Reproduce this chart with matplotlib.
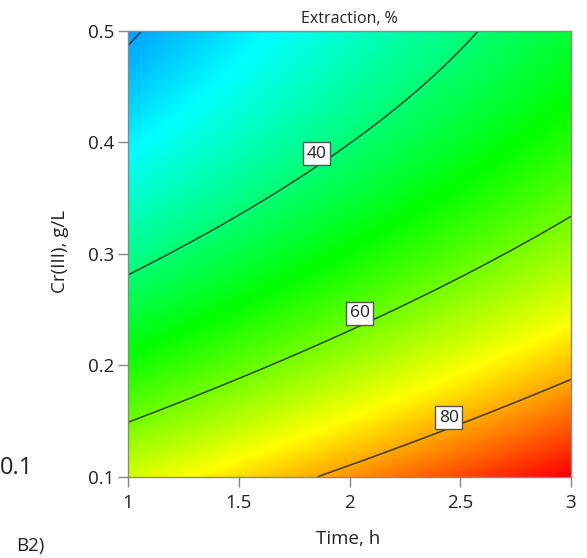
import numpy as np
import matplotlib
matplotlib.use("Agg")
import matplotlib.pyplot as plt
from matplotlib.colors import LinearSegmentedColormap

plt.rcParams['font.family'] = ['Open Sans', 'DejaVu Sans']

# Factor ranges
time_range = [1.0, 3.0]      # Time, h
cr_range = [0.1, 0.5]        # Cr(III), g/L

# Quadratic response model for extraction (%), in coded factors A (time), B (Cr)
b0 = 50.7
b_time = 13.2
b_cr = -24.8
b_time_cr = 0.0
b_time2 = 0.1
b_cr2 = 6.4

contour_levels = [20, 40, 60, 80]
labelled_levels = [40, 60, 80]
label_spots = [(1.852, 0.390), (2.047, 0.2465), (2.449, 0.153)]

x_ticks = [1, 1.5, 2, 2.5, 3]
x_ticklabels = ['1', '1.5', '2', '2.5', '3']
y_ticks = [0.1, 0.2, 0.3, 0.4, 0.5]
y_ticklabels = ['0.1', '0.2', '0.3', '0.4', '0.5']

color_low, color_high = 5, 95


def extraction(t, c):
    a = (t - 2.0) / 1.0
    b = (c - 0.3) / 0.2
    return (b0 + b_time * a + b_cr * b + b_time_cr * a * b
            + b_time2 * a ** 2 + b_cr2 * b ** 2)


t = np.linspace(time_range[0], time_range[1], 400)
c = np.linspace(cr_range[0], cr_range[1], 400)
T, C = np.meshgrid(t, c)
Z = extraction(T, C)

cmap = LinearSegmentedColormap.from_list(
    'rsm', ['#0000ff', '#00ffff', '#00ff00', '#ffff00', '#ff0000'])

W, H = 587, 558
fig = plt.figure(figsize=(W / 100, H / 100), dpi=100)
ax = fig.add_axes([128 / W, 1 - 476.7 / H, 443 / W, 445.7 / H])

ax.imshow(Z, origin='lower', extent=[*time_range, *cr_range], aspect='auto',
          cmap=cmap, vmin=color_low, vmax=color_high, interpolation='bilinear')

cs = ax.contour(T, C, Z, levels=contour_levels, colors='#1a1a1a',
                linewidths=1.1, alpha=0.8)

# Boxed level labels sitting on their contour lines
for level, (sx, sy) in zip(labelled_levels, label_spots):
    ax.text(sx, sy, f'{level:d}', fontsize=12.5, color='#222222',
            ha='center', va='center', zorder=5,
            bbox=dict(boxstyle='square,pad=0.2', fc='white',
                      ec='#555555', lw=1.0))

ax.set_xlim(*time_range)
ax.set_ylim(*cr_range)
ax.set_xticks(x_ticks)
ax.set_xticklabels(x_ticklabels)
ax.set_yticks(y_ticks)
ax.set_yticklabels(y_ticklabels)
ax.tick_params(direction='out', length=7, width=1, color='#888888',
               labelsize=13.5, labelcolor='#222222', pad=3)
ax.tick_params(axis='x', pad=5.5)
for s in ax.spines.values():
    s.set_color('#888888')
    s.set_linewidth(1)

ax.set_title('Extraction, %', fontsize=11.5, color='#222222', pad=5.5)

fig.text(348.5 / W, 1 - 544 / H, 'Time, h', fontsize=13.5, color='#222222',
         ha='center', va='baseline')
fig.text(65 / W, 1 - 251.7 / H, 'Cr(III), g/L', fontsize=13.5,
         color='#222222', rotation=90, rotation_mode='anchor',
         ha='center', va='baseline')

fig.text(33 / W, 1 - 474 / H, '0.1', fontsize=17, color='#222222',
         ha='right', va='baseline')
fig.text(16 / W, 1 - 551.5 / H, 'B2)', fontsize=13.5, color='#222222',
         ha='left', va='baseline')

fig.savefig('out.png', dpi=100)
